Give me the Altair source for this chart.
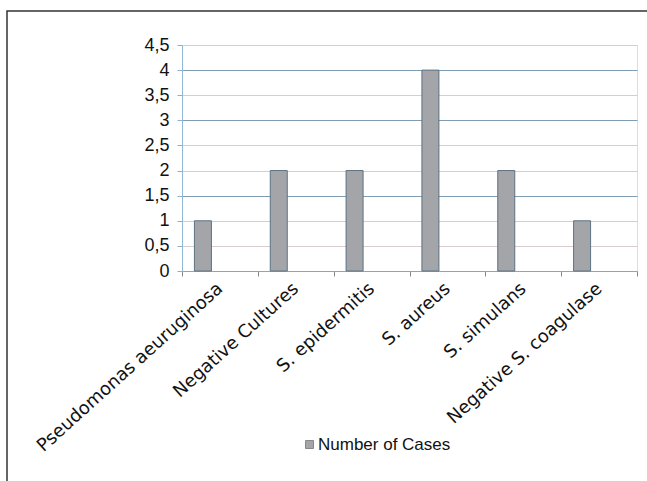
import altair as alt
import pandas as pd

categories = ["Pseudomonas aeuruginosa", "Negative Cultures", "S. epidermitis",
              "S. aureus", "S. simulans", "Negative S. coagulase"]
cases = [1, 2, 2, 4, 2, 1]
series_name = "Number of Cases"
y_ticks = [0, 0.5, 1, 1.5, 2, 2.5, 3, 3.5, 4, 4.5]

df = pd.DataFrame({"category": categories, "cases": cases, "series": [series_name] * len(categories)})

bars = alt.Chart(df).mark_bar(size=17, xOffset=-17, fill="#a3a5a9", stroke="#5d7283", strokeWidth=1).encode(
    x=alt.X("category:N", sort=categories, title=None,
            scale=alt.Scale(paddingInner=0, paddingOuter=0),
            axis=alt.Axis(labelAngle=-42, labelAlign="right", labelBaseline="middle",
                          labelFont="DejaVu Sans", labelFontSize=18, labelColor="#111",
                          labelPadding=10, tickBand="extent", tickSize=5, tickColor="#888",
                          domainColor="#b09a9a", grid=False, labelLimit=400)),
    y=alt.Y("cases:Q", title=None,
            scale=alt.Scale(domain=[0, 4.5], nice=False),
            axis=alt.Axis(values=y_ticks, labelExpr="replace(toString(datum.value), '.', ',')",
                          labelFont="Liberation Sans", labelFontSize=18, labelColor="#111",
                          labelPadding=8, tickSize=5, tickColor="#8fb0c8", domainColor="#8fb8d4",
                          grid=True,
                          gridColor=alt.condition("datum.value == 4 || datum.value == 3 || datum.value == 1.5",
                                                  alt.value("#7f9db3"), alt.value("#d8cccc")),
                          gridWidth=1)),
    fill=alt.Fill("series:N", scale=alt.Scale(range=["#a3a5a9"]),
                  legend=alt.Legend(title=None, orient="none", legendX=119, legendY=391,
                                    symbolType="square", symbolSize=64, symbolStrokeColor="#888",
                                    symbolStrokeWidth=1,
                                    labelFont="Liberation Sans", labelFontSize=17, labelColor="#111",
                                    labelOffset=0)),
)

frame_df = pd.DataFrame({"k": [0]})
frame = alt.Chart(frame_df).mark_rect(fill=None, stroke="#333", strokeWidth=1.5).encode(
    x=alt.value(-175), x2=alt.value(480), y=alt.value(-34), y2=alt.value(450)
)

chart = alt.layer(frame, bars).properties(
    width=455, height=226,
    padding={"left": 182, "top": 45, "right": 10, "bottom": 210},
    autosize=alt.AutoSizeParams(type="none"),
).configure_view(stroke=None).configure(background="white")

chart.save("out.html", embed_options={"renderer": "svg", "actions": False})
